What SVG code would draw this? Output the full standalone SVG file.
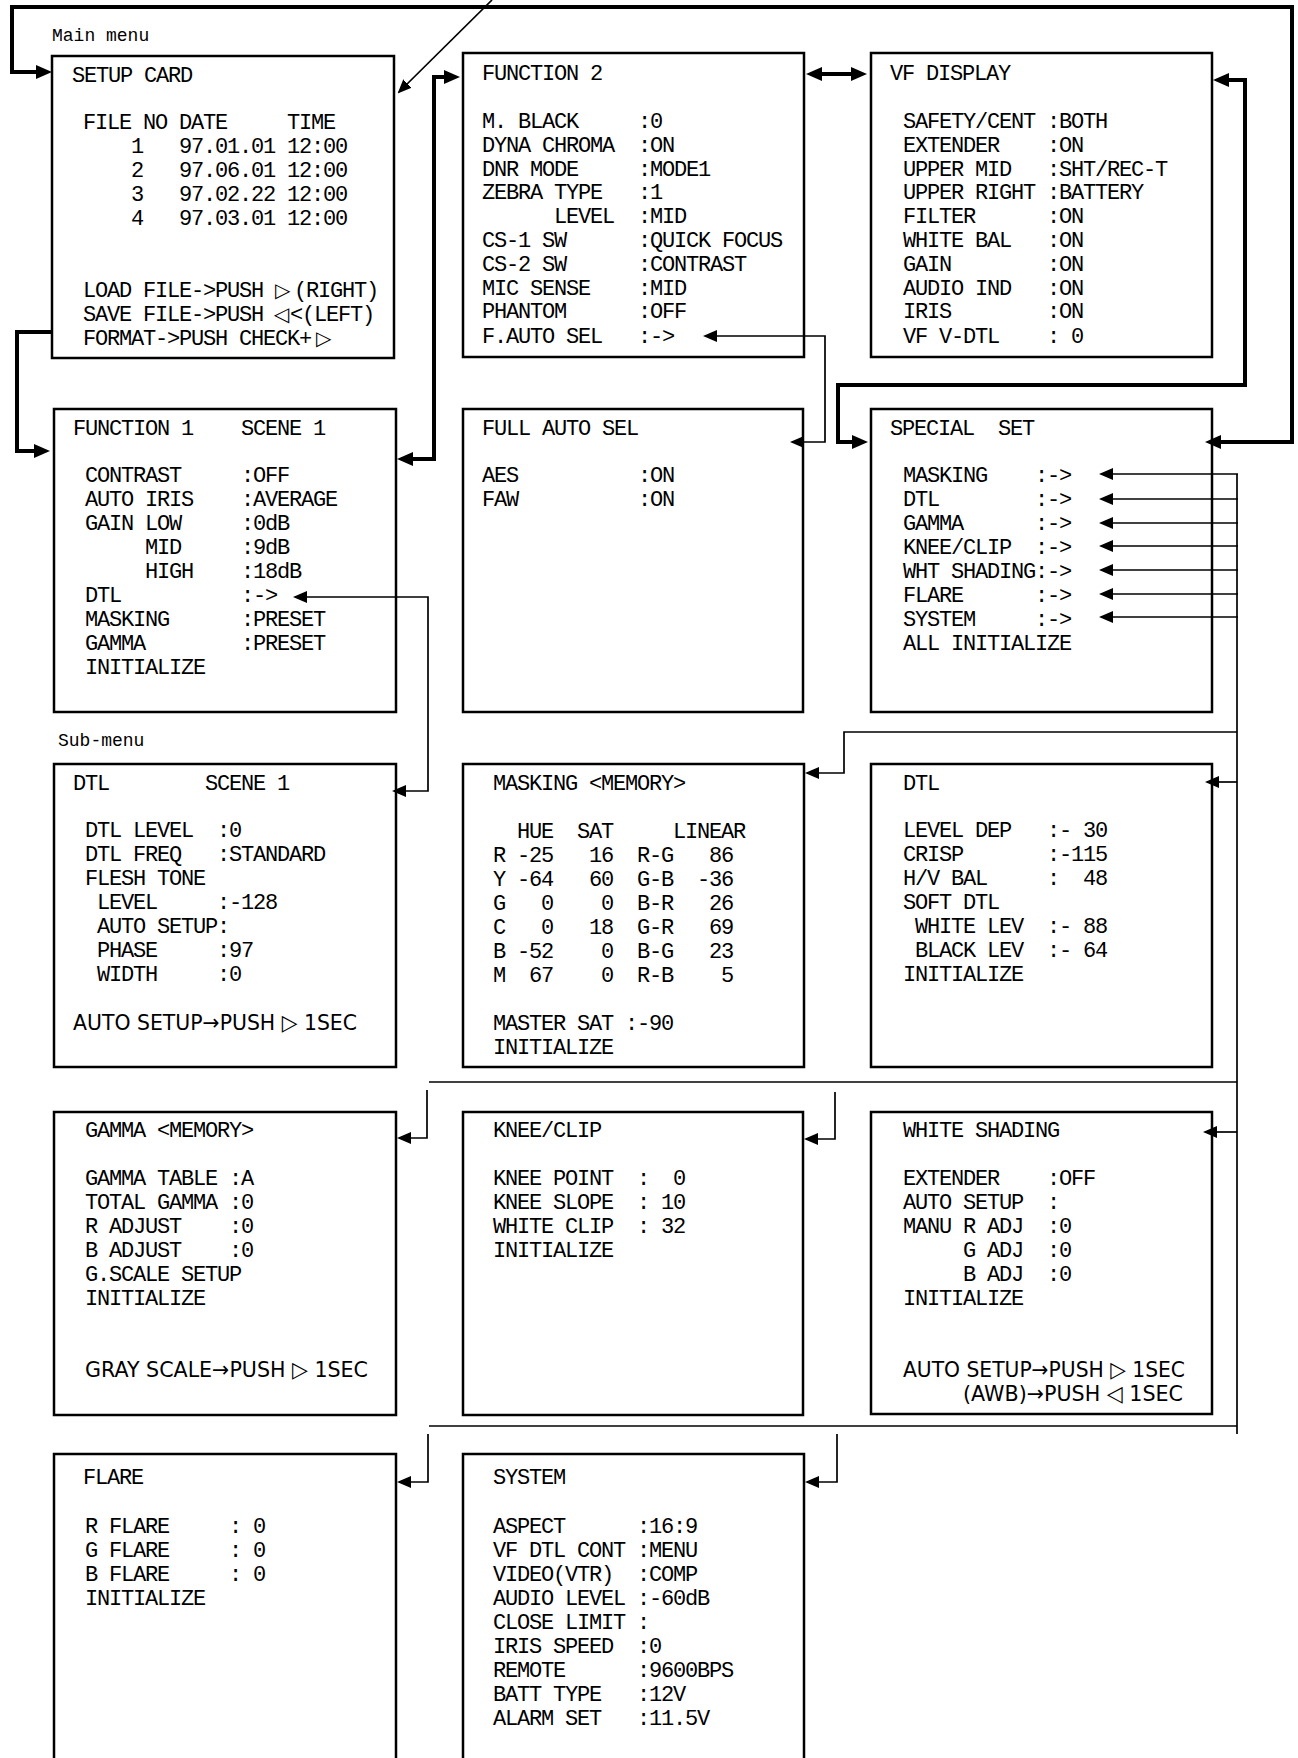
<svg xmlns="http://www.w3.org/2000/svg" width="1298" height="1758" viewBox="0 0 1298 1758" xml:space="preserve">
<style>
text{white-space:pre;fill:#000}
.m{font-family:"Liberation Mono","DejaVu Sans Mono",monospace;font-size:22px;letter-spacing:-1.2px}
.s{font-family:"Liberation Mono","DejaVu Sans Mono",monospace;font-size:18px}
.p{font-family:"DejaVu Sans",sans-serif;font-size:22px}
.tri{font-family:"DejaVu Sans",sans-serif;font-size:20px;letter-spacing:0}
.box{fill:#fff;stroke:#000;stroke-width:2.5}
.thick{fill:none;stroke:#000;stroke-width:4;marker-end:url(#ah)}
.thin{fill:none;stroke:#000;stroke-width:1.7}
</style>
<defs>
<marker id="ah" markerUnits="userSpaceOnUse" markerWidth="16" markerHeight="14" refX="11" refY="7" orient="auto-start-reverse"><path d="M0,0 L16,7 L0,14 z" fill="#000"/></marker>
<marker id="at" markerUnits="userSpaceOnUse" markerWidth="14" markerHeight="12" refX="12" refY="6" orient="auto-start-reverse"><path d="M0,0 L14,6 L0,12 z" fill="#000"/></marker>
</defs>
<rect width="1298" height="1758" fill="#fff"/>
<text class="s" x="52" y="41">Main menu</text>
<text class="s" x="58" y="746">Sub-menu</text>

<g id="setup-card">
<rect class="box" x="52" y="56" width="342" height="302"/>
<text class="m" x="72" y="82">SETUP CARD</text>
<text class="m" x="83" y="129">FILE NO DATE     TIME</text>
<text class="m" x="83" y="153">    1   97.01.01 12:00</text>
<text class="m" x="83" y="177">    2   97.06.01 12:00</text>
<text class="m" x="83" y="201">    3   97.02.22 12:00</text>
<text class="m" x="83" y="225">    4   97.03.01 12:00</text>
<text class="m" x="83" y="297">LOAD FILE-&gt;PUSH</text>
<text class="tri" x="275" y="297">▷</text>
<text class="m" x="294" y="297">(RIGHT)</text>
<text class="m" x="83" y="321">SAVE FILE-&gt;PUSH</text>
<text class="tri" x="274" y="321">◁</text>
<text class="m" x="290" y="321">&lt;(LEFT)</text>
<text class="m" x="83" y="345">FORMAT-&gt;PUSH CHECK+</text>
<text class="tri" x="316" y="345">▷</text>
</g>

<g id="function-2">
<rect class="box" x="463" y="53" width="341" height="304"/>
<text class="m" x="482" y="80">FUNCTION 2</text>
<text class="m" x="482" y="128">M. BLACK     :0</text>
<text class="m" x="482" y="152">DYNA CHROMA  :ON</text>
<text class="m" x="482" y="176">DNR MODE     :MODE1</text>
<text class="m" x="482" y="199">ZEBRA TYPE   :1</text>
<text class="m" x="482" y="223">      LEVEL  :MID</text>
<text class="m" x="482" y="247">CS-1 SW      :QUICK FOCUS</text>
<text class="m" x="482" y="271">CS-2 SW      :CONTRAST</text>
<text class="m" x="482" y="295">MIC SENSE    :MID</text>
<text class="m" x="482" y="318">PHANTOM      :OFF</text>
<text class="m" x="482" y="343">F.AUTO SEL   :-&gt;</text>
</g>

<g id="vf-display">
<rect class="box" x="871" y="53" width="341" height="304"/>
<text class="m" x="890" y="80">VF DISPLAY</text>
<text class="m" x="903" y="128">SAFETY/CENT :BOTH</text>
<text class="m" x="903" y="152">EXTENDER    :ON</text>
<text class="m" x="903" y="176">UPPER MID   :SHT/REC-T</text>
<text class="m" x="903" y="199">UPPER RIGHT :BATTERY</text>
<text class="m" x="903" y="223">FILTER      :ON</text>
<text class="m" x="903" y="247">WHITE BAL   :ON</text>
<text class="m" x="903" y="271">GAIN        :ON</text>
<text class="m" x="903" y="295">AUDIO IND   :ON</text>
<text class="m" x="903" y="318">IRIS        :ON</text>
<text class="m" x="903" y="343">VF V-DTL    : 0</text>
</g>

<g id="function-1">
<rect class="box" x="54" y="409" width="342" height="303"/>
<text class="m" x="73" y="435">FUNCTION 1    SCENE 1</text>
<text class="m" x="85" y="482">CONTRAST     :OFF</text>
<text class="m" x="85" y="506">AUTO IRIS    :AVERAGE</text>
<text class="m" x="85" y="530">GAIN LOW     :0dB</text>
<text class="m" x="85" y="554">     MID     :9dB</text>
<text class="m" x="85" y="578">     HIGH    :18dB</text>
<text class="m" x="85" y="602">DTL          :-&gt;</text>
<text class="m" x="85" y="626">MASKING      :PRESET</text>
<text class="m" x="85" y="650">GAMMA        :PRESET</text>
<text class="m" x="85" y="674">INITIALIZE</text>
</g>

<g id="full-auto-sel">
<rect class="box" x="463" y="409" width="340" height="303"/>
<text class="m" x="482" y="435">FULL AUTO SEL</text>
<text class="m" x="482" y="482">AES          :ON</text>
<text class="m" x="482" y="506">FAW          :ON</text>
</g>

<g id="special-set">
<rect class="box" x="871" y="409" width="341" height="303"/>
<text class="m" x="890" y="435">SPECIAL  SET</text>
<text class="m" x="903" y="482">MASKING    :-&gt;</text>
<text class="m" x="903" y="506">DTL        :-&gt;</text>
<text class="m" x="903" y="530">GAMMA      :-&gt;</text>
<text class="m" x="903" y="554">KNEE/CLIP  :-&gt;</text>
<text class="m" x="903" y="578">WHT SHADING:-&gt;</text>
<text class="m" x="903" y="602">FLARE      :-&gt;</text>
<text class="m" x="903" y="626">SYSTEM     :-&gt;</text>
<text class="m" x="903" y="650">ALL INITIALIZE</text>
</g>

<g id="dtl-scene">
<rect class="box" x="54" y="764" width="342" height="303"/>
<text class="m" x="73" y="790">DTL        SCENE 1</text>
<text class="m" x="85" y="837">DTL LEVEL  :0</text>
<text class="m" x="85" y="861">DTL FREQ   :STANDARD</text>
<text class="m" x="85" y="885">FLESH TONE</text>
<text class="m" x="85" y="909"> LEVEL     :-128</text>
<text class="m" x="85" y="933"> AUTO SETUP:</text>
<text class="m" x="85" y="957"> PHASE     :97</text>
<text class="m" x="85" y="981"> WIDTH     :0</text>
<text class="p" x="73" y="1030" textLength="284" lengthAdjust="spacingAndGlyphs">AUTO SETUP→PUSH ▷ 1SEC</text>
</g>

<g id="masking">
<rect class="box" x="463" y="764" width="341" height="303"/>
<text class="m" x="493" y="790">MASKING &lt;MEMORY&gt;</text>
<text class="m" x="493" y="838">  HUE  SAT     LINEAR</text>
<text class="m" x="493" y="862">R -25   16  R-G   86</text>
<text class="m" x="493" y="886">Y -64   60  G-B  -36</text>
<text class="m" x="493" y="910">G   0    0  B-R   26</text>
<text class="m" x="493" y="934">C   0   18  G-R   69</text>
<text class="m" x="493" y="958">B -52    0  B-G   23</text>
<text class="m" x="493" y="982">M  67    0  R-B    5</text>
<text class="m" x="493" y="1030">MASTER SAT :-90</text>
<text class="m" x="493" y="1054">INITIALIZE</text>
</g>

<g id="dtl">
<rect class="box" x="871" y="764" width="341" height="303"/>
<text class="m" x="903" y="790">DTL</text>
<text class="m" x="903" y="837">LEVEL DEP   :- 30</text>
<text class="m" x="903" y="861">CRISP       :-115</text>
<text class="m" x="903" y="885">H/V BAL     :  48</text>
<text class="m" x="903" y="909">SOFT DTL</text>
<text class="m" x="903" y="933"> WHITE LEV  :- 88</text>
<text class="m" x="903" y="957"> BLACK LEV  :- 64</text>
<text class="m" x="903" y="981">INITIALIZE</text>
</g>

<g id="gamma">
<rect class="box" x="54" y="1112" width="342" height="303"/>
<text class="m" x="85" y="1137">GAMMA &lt;MEMORY&gt;</text>
<text class="m" x="85" y="1185">GAMMA TABLE :A</text>
<text class="m" x="85" y="1209">TOTAL GAMMA :0</text>
<text class="m" x="85" y="1233">R ADJUST    :0</text>
<text class="m" x="85" y="1257">B ADJUST    :0</text>
<text class="m" x="85" y="1281">G.SCALE SETUP</text>
<text class="m" x="85" y="1305">INITIALIZE</text>
<text class="p" x="85" y="1377" textLength="283" lengthAdjust="spacingAndGlyphs">GRAY SCALE→PUSH ▷ 1SEC</text>
</g>

<g id="knee-clip">
<rect class="box" x="463" y="1112" width="340" height="303"/>
<text class="m" x="493" y="1137">KNEE/CLIP</text>
<text class="m" x="493" y="1185">KNEE POINT  :  0</text>
<text class="m" x="493" y="1209">KNEE SLOPE  : 10</text>
<text class="m" x="493" y="1233">WHITE CLIP  : 32</text>
<text class="m" x="493" y="1257">INITIALIZE</text>
</g>

<g id="white-shading">
<rect class="box" x="871" y="1112" width="341" height="302"/>
<text class="m" x="903" y="1137">WHITE SHADING</text>
<text class="m" x="903" y="1185">EXTENDER    :OFF</text>
<text class="m" x="903" y="1209">AUTO SETUP  :</text>
<text class="m" x="903" y="1233">MANU R ADJ  :0</text>
<text class="m" x="903" y="1257">     G ADJ  :0</text>
<text class="m" x="903" y="1281">     B ADJ  :0</text>
<text class="m" x="903" y="1305">INITIALIZE</text>
<text class="p" x="903" y="1377" textLength="282" lengthAdjust="spacingAndGlyphs">AUTO SETUP→PUSH ▷ 1SEC</text>
<text class="p" x="963" y="1401" textLength="220" lengthAdjust="spacingAndGlyphs">(AWB)→PUSH ◁ 1SEC</text>
</g>

<g id="flare">
<path class="box" d="M54,1760 V1454 H396 V1760"/>
<text class="m" x="83" y="1484">FLARE</text>
<text class="m" x="85" y="1533">R FLARE     : 0</text>
<text class="m" x="85" y="1557">G FLARE     : 0</text>
<text class="m" x="85" y="1581">B FLARE     : 0</text>
<text class="m" x="85" y="1605">INITIALIZE</text>
</g>

<g id="system">
<path class="box" d="M463,1760 V1454 H804 V1760"/>
<text class="m" x="493" y="1484">SYSTEM</text>
<text class="m" x="493" y="1533">ASPECT      :16:9</text>
<text class="m" x="493" y="1557">VF DTL CONT :MENU</text>
<text class="m" x="493" y="1581">VIDEO(VTR)  :COMP</text>
<text class="m" x="493" y="1605">AUDIO LEVEL :-60dB</text>
<text class="m" x="493" y="1629">CLOSE LIMIT :</text>
<text class="m" x="493" y="1653">IRIS SPEED  :0</text>
<text class="m" x="493" y="1677">REMOTE      :9600BPS</text>
<text class="m" x="493" y="1701">BATT TYPE   :12V</text>
<text class="m" x="493" y="1725">ALARM SET   :11.5V</text>
</g>

<g id="connectors">
<path class="thick" style="marker-start:url(#ah)" d="M1210,442 H1292 V7 H12 V72 H47"/>
<path class="thick" d="M52,332 H17 V451 H45"/>
<path class="thick" style="marker-start:url(#ah)" d="M402,459 H434 V77 H455"/>
<path class="thick" style="marker-start:url(#ah)" d="M811,74 H862"/>
<path class="thick" style="marker-start:url(#ah)" d="M1218,80 H1245 V385 H838 V442 H863"/>
<path class="thin" style="marker-end:url(#at)" d="M492,0 L399,92"/>
<path class="thin" style="marker-start:url(#at);marker-end:url(#at)" d="M705,336 H825 V442 H792"/>
<path class="thin" style="marker-start:url(#at);marker-end:url(#at)" d="M295,597 H428 V791 H394"/>
<path class="thin" d="M1237,474 V1434"/>
<path class="thin" style="marker-end:url(#at)" d="M1238,474 H1101"/>
<path class="thin" style="marker-end:url(#at)" d="M1238,499 H1101"/>
<path class="thin" style="marker-end:url(#at)" d="M1238,523 H1101"/>
<path class="thin" style="marker-end:url(#at)" d="M1238,546 H1101"/>
<path class="thin" style="marker-end:url(#at)" d="M1238,570 H1101"/>
<path class="thin" style="marker-end:url(#at)" d="M1238,594 H1101"/>
<path class="thin" style="marker-end:url(#at)" d="M1238,617 H1101"/>
<path class="thin" style="marker-end:url(#at)" d="M1237,732 H844 V773 H807"/>
<path class="thin" style="marker-end:url(#at)" d="M1237,782 H1207"/>
<path class="thin" d="M429,1082 H1237"/>
<path class="thin" style="marker-end:url(#at)" d="M427,1090 V1138 H399"/>
<path class="thin" style="marker-end:url(#at)" d="M835,1092 V1139 H806"/>
<path class="thin" style="marker-end:url(#at)" d="M1237,1132 H1205"/>
<path class="thin" d="M429,1426 H1237"/>
<path class="thin" style="marker-end:url(#at)" d="M428,1434 V1482 H399"/>
<path class="thin" style="marker-end:url(#at)" d="M837,1434 V1482 H807"/>
</g>
</svg>
